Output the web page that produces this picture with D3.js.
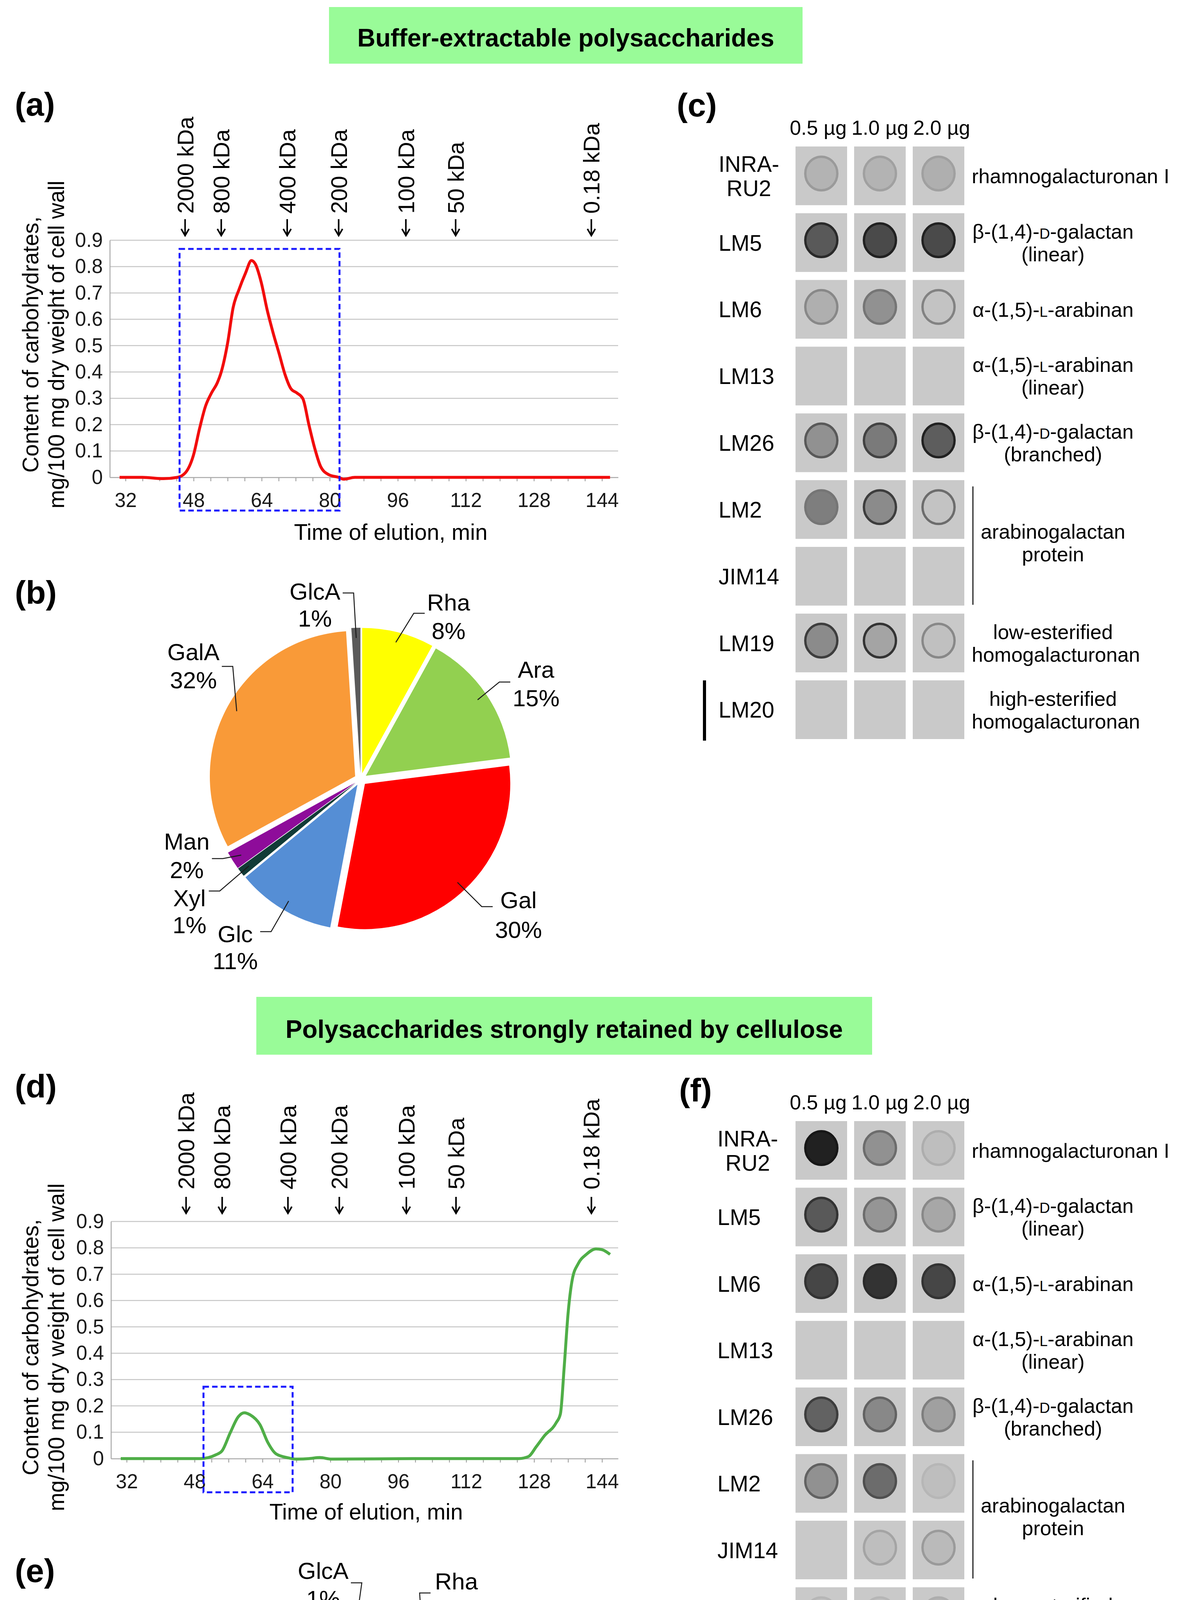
<!DOCTYPE html>
<html>
<head>
    <meta charset="utf-8">
    <title>Polysaccharide fractions - elution profiles, sugar composition and dot blots</title>
    <script src="https://d3js.org/d3.v7.min.js" charset="utf-8"></script>
    <style>
        html, body { margin: 0; padding: 0; background: #fff; }
    </style>
</head>
<body>
<div id="chart"></div>
<script>
// ---------- data ----------

// elution profile, buffer-extractable fraction (a)
const timeA = [30.6, 36, 40.9, 44.2, 46.1, 48.0, 49.4, 50.8, 52.2, 53.6, 54.5, 56.0, 57.3, 58.7, 60.2, 61.6,
    62.5, 63.9, 65.3, 66.7, 68.1, 69.5, 70.9, 72.3, 73.7, 75.1, 76.5, 77.9, 79.8, 82.1, 83.3, 85.9, 100, 120, 145.9];
const contentA = [0, 0, -0.005, 0, 0.018, 0.086, 0.185, 0.27, 0.32, 0.36, 0.40, 0.51, 0.645, 0.714, 0.775, 0.823,
    0.81, 0.74, 0.635, 0.548, 0.47, 0.39, 0.336, 0.32, 0.298, 0.2, 0.109, 0.04, 0.01, 0, -0.007, 0, 0, 0, 0];

// elution profile, fraction retained by cellulose (d)
const timeD = [30.6, 40, 49.4, 53.1, 54.5, 56.4, 58.3, 59.7, 61.1, 63.4, 65.3, 67.2, 70.0, 71.9, 75.0, 77.5, 80.3,
    100, 124.4, 126.7, 128.5, 130.4, 133.2, 134.2, 135.1, 136.0, 137.0, 138.4, 140.3, 142.6, 144.0, 145.9];
const contentD = [0, 0, 0, 0.015, 0.03, 0.098, 0.159, 0.174, 0.166, 0.129, 0.06, 0.018, 0.003, -0.002, 0, 0.004, -0.002,
    0, 0, 0.008, 0.045, 0.086, 0.136, 0.17, 0.35, 0.55, 0.68, 0.74, 0.775, 0.796, 0.793, 0.775];

// dashed selection boxes [t0, t1, yMin, yMax]
const boxA = [44.7, 82.3, -0.126, 0.867];
const boxD = [50.1, 71.1, -0.128, 0.273];

// molecular mass markers
const kdaLabels = ["2000 kDa", "800 kDa", "400 kDa", "200 kDa", "100 kDa", "50 kDa", "0.18 kDa"];
const kdaTimes = [46.0, 54.5, 70.0, 82.1, 97.9, 109.6, 141.5];

const xTickLabels = [32, 48, 64, 80, 96, 112, 128, 144];
const yTickLabels = [0, 0.1, 0.2, 0.3, 0.4, 0.5, 0.6, 0.7, 0.8, 0.9];

// monosaccharide composition, %
const sugars = ["Rha", "Ara", "Gal", "Glc", "Xyl", "Man", "GalA", "GlcA"];
const shareB = [8, 15, 30, 11, 1, 2, 32, 1];
const shareE = [14, 28, 24, 3, 1, 3, 26, 1];

// dot blots
const antibodies = ["INRA-RU2", "LM5", "LM6", "LM13", "LM26", "LM2", "JIM14", "LM19", "LM20"];
const amounts = ["0.5 µg", "1.0 µg", "2.0 µg"];
const epitopes = ["rhamnogalacturonan I", "β-(1,4)-D-galactan|(linear)", "α-(1,5)-L-arabinan",
    "α-(1,5)-L-arabinan|(linear)", "β-(1,4)-D-galactan|(branched)", "arabinogalactan|protein",
    "low-esterified|homogalacturonan", "high-esterified|homogalacturonan"];
const epitopeRows = [["INRA-RU2"], ["LM5"], ["LM6"], ["LM13"], ["LM26"], ["LM2", "JIM14"], ["LM19"], ["LM20"]];
const markedRows = ["LM20"];

// spot darkness (0 = nothing, 1 = black), body and rim, per antibody x amount
const spotC = [[0.12, 0.12, 0.14], [0.6, 0.68, 0.68], [0.14, 0.3, 0.03], [0, 0, 0], [0.3, 0.42, 0.58],
    [0.4, 0.33, 0.03], [0, 0, 0], [0.33, 0.2, 0.05], [0, 0, 0]];
const rimC = [[0.25, 0.22, 0.22], [0.85, 0.9, 0.9], [0.35, 0.45, 0.38], [0, 0, 0], [0.6, 0.72, 0.9],
    [0.45, 0.75, 0.5], [0, 0, 0], [0.75, 0.8, 0.35], [0, 0, 0]];
const spotF = [[0.9, 0.3, 0.06], [0.6, 0.28, 0.18], [0.7, 0.8, 0.7], [0, 0, 0], [0.55, 0.35, 0.22],
    [0.3, 0.5, 0.06], [0, 0.06, 0.08], [0.05, 0.05, 0.12], [0, 0, 0]];
const rimF = [[0.95, 0.5, 0.15], [0.8, 0.5, 0.35], [0.8, 0.85, 0.8], [0, 0, 0], [0.75, 0.55, 0.4],
    [0.55, 0.65, 0.1], [0, 0.2, 0.25], [0.1, 0.1, 0.15], [0, 0, 0]];

// ---------- drawing ----------
const FONT = '"Liberation Sans", Arial, Helvetica, sans-serif';
const width = 3020, height = 4981;

const svg = d3.select("#chart").append("svg")
    .attr("width", width).attr("height", height)
    .style("display", "block")
    .attr("font-family", FONT);

svg.append("rect").attr("width", width).attr("height", height).attr("fill", "#fff");

// section titles in green boxes
function titleBox(x0, x1, y0, y1, baseline, label) {
    svg.append("rect").attr("x", x0).attr("y", y0).attr("width", x1 - x0).attr("height", y1 - y0)
        .attr("fill", "#99fb98");
    svg.append("text").attr("x", (x0 + x1) / 2).attr("y", baseline)
        .attr("text-anchor", "middle").attr("font-weight", "bold").attr("font-size", 64)
        .text(label);
}
titleBox(842, 2054, 18, 163, 119, "Buffer-extractable polysaccharides");
titleBox(656, 2232, 2552, 2700, 2657, "Polysaccharides strongly retained by cellulose");

// panel letters
function panelLetter(x, y, s) {
    svg.append("text").attr("x", x).attr("y", y).attr("font-weight", "bold").attr("font-size", 84).text(s);
}
panelLetter(38, 296, "(a)");
panelLetter(38, 1546, "(b)");
panelLetter(1732, 298, "(c)");
panelLetter(38, 2810, "(d)");
panelLetter(38, 4050, "(e)");
panelLetter(1738, 2820, "(f)");

// elution chart
function drawElution(o, times, values, box, lineColor) {
    const g = svg.append("g");
    const x = d3.scaleLinear().domain([28.3, 147.8]).range([o.left, o.right]);
    const y = d3.scaleLinear().domain([0, 0.9]).range([o.bottom, o.top]);

    g.append("g").selectAll("line").data(yTickLabels.filter(d => d > 0)).join("line")
        .attr("x1", o.left).attr("x2", o.right)
        .attr("y1", d => y(d)).attr("y2", d => y(d))
        .attr("stroke", "#c6c6c6").attr("stroke-width", 2.5);

    const yAxis = g.append("g").attr("transform", `translate(${o.left},0)`)
        .call(d3.axisLeft(y).tickValues(yTickLabels).tickSize(0).tickPadding(18)
            .tickFormat(d => d === 0 ? "0" : d.toFixed(1)));
    const xAxis = g.append("g").attr("transform", `translate(0,${y(0)})`)
        .call(d3.axisBottom(x).tickValues(d3.range(32, 145, 4)).tickSize(10).tickSizeOuter(0).tickPadding(30)
            .tickFormat(d => xTickLabels.includes(d) ? d : ""));
    [yAxis, xAxis].forEach(a => {
        a.attr("font-family", FONT).attr("font-size", 51);
        a.select(".domain").attr("stroke", "#a8a8a8").attr("stroke-width", 2.5);
        a.selectAll(".tick line").attr("stroke", "#a8a8a8").attr("stroke-width", 2.5);
        a.selectAll(".tick text").attr("fill", "#1a1a1a");
    });

    // curve
    const pts = times.map((t, i) => [t, values[i]]);
    g.append("path").datum(pts)
        .attr("fill", "none").attr("stroke", lineColor).attr("stroke-width", 7.5)
        .attr("stroke-linejoin", "round")
        .attr("d", d3.line().x(d => x(d[0])).y(d => y(d[1])).curve(d3.curveMonotoneX));

    // dashed box
    g.append("rect")
        .attr("x", x(box[0])).attr("y", y(box[3]))
        .attr("width", x(box[1]) - x(box[0])).attr("height", y(box[2]) - y(box[3]))
        .attr("fill", "none").attr("stroke", "#1a1aff").attr("stroke-width", 5)
        .attr("stroke-dasharray", "14,8");

    // mass markers
    const mk = g.append("g").selectAll("g").data(kdaTimes).join("g")
        .attr("transform", d => `translate(${x(d)},0)`);
    mk.append("text")
        .attr("transform", `translate(0,${o.kdaText}) rotate(-90)`)
        .attr("dy", "0.36em").attr("font-size", 58)
        .text((d, i) => kdaLabels[i]);
    mk.append("line").attr("x1", 0).attr("x2", 0)
        .attr("y1", o.arrowTip - 42).attr("y2", o.arrowTip - 2)
        .attr("stroke", "#000").attr("stroke-width", 4);
    mk.append("path")
        .attr("d", `M-10,${o.arrowTip - 17}L0,${o.arrowTip}L10,${o.arrowTip - 17}`)
        .attr("fill", "none").attr("stroke", "#000").attr("stroke-width", 4);

    // axis titles
    g.append("text").attr("x", o.xTitleX).attr("y", o.xTitleY).attr("dy", "0.36em")
        .attr("text-anchor", "middle").attr("font-size", 57).text("Time of elution, min");
    [["Content of carbohydrates,", 77], ["mg/100 mg dry weight of cell wall", 143]].forEach(([s, xc]) => {
        g.append("text").attr("transform", `translate(${xc},${o.yTitleY}) rotate(-90)`)
            .attr("dy", "0.36em").attr("text-anchor", "middle").attr("font-size", 57).text(s);
    });
}

drawElution({left: 281, right: 1582, top: 615, bottom: 1222, kdaText: 547, arrowTip: 603,
    xTitleX: 1000, xTitleY: 1361, yTitleY: 882}, timeA, contentA, boxA, "#f20d0d");
drawElution({left: 284, right: 1582, top: 3127, bottom: 3734, kdaText: 3045, arrowTip: 3106,
    xTitleX: 937, xTitleY: 3869, yTitleY: 3449}, timeD, contentD, boxD, "#4fae47");

// pies
const sugarColor = d3.scaleOrdinal().domain(sugars)
    .range(["#ffff00", "#92d050", "#ff0000", "#558ed5", "#113b37", "#8e0c9a", "#f99a38", "#5a5a5a"]);

function drawPie(o, shares, labelOffsets) {
    const g = svg.append("g").attr("transform", `translate(${o.cx},${o.cy})`);
    const arcs = d3.pie().sort(null)(shares);
    const arc = d3.arc().innerRadius(0).outerRadius(o.r);
    const shift = a => {
        const m = (a.startAngle + a.endAngle) / 2;
        return [Math.sin(m) * o.explode, -Math.cos(m) * o.explode];
    };
    g.selectAll("path.slice").data(arcs).join("path").attr("class", "slice")
        .attr("transform", d => `translate(${shift(d)})`)
        .attr("d", arc)
        .attr("fill", (d, i) => sugarColor(sugars[i]));

    arcs.forEach((a, i) => {
        const [dx, dy] = labelOffsets[i];
        const lg = g.append("g").attr("transform", `translate(${dx},${dy})`);
        const gap = o.lineGap[i] || 72;
        const t1 = lg.append("text").attr("y", -gap / 2).attr("dy", "0.36em")
            .attr("text-anchor", "middle").attr("font-size", 60).text(sugars[i]);
        const t2 = lg.append("text").attr("y", gap / 2).attr("dy", "0.36em")
            .attr("text-anchor", "middle").attr("font-size", 60).text(shares[i] + "%");
        const w = Math.max(t1.node().getComputedTextLength(), t2.node().getComputedTextLength());
        // leader line
        const m = (a.startAngle + a.endAngle) / 2;
        const [sx, sy] = shift(a);
        const ex = sx + Math.sin(m) * o.r * 0.93, ey = sy - Math.cos(m) * o.r * 0.93;
        const side = dx > 0 ? -1 : 1;
        const x0 = dx + side * (w / 2 + 6), y0 = dy + o.leadY[i];
        const x1 = x0 + side * 28;
        g.append("path").attr("d", `M${x0},${y0}L${x1},${y0}L${ex},${ey}`)
            .attr("fill", "none").attr("stroke", "#1a1a1a").attr("stroke-width", 2.5);
    });
}

drawPie({cx: 923, cy: 1995, r: 372, explode: 16,
        lineGap: [73, 73, 76, 69, 69, 73, 72, 69],
        leadY: [-8, -4, -20, -40, -52, 8, 2, -30]},
    shareB,
    [[225, -417], [449, -245], [404, 346], [-321, 430], [-438, 338], [-445, 195], [-428, -291], [-117, -447]]);
drawPie({cx: 925, cy: 4505, r: 375, explode: 16,
        lineGap: [69, 69, 68, 83, 65, 72, 72, 72],
        leadY: [-4, -8, -34, -55, -16, 40, -3, -4]},
    shareE,
    [[243, -423], [488, -138], [-328, 400], [-488, 281], [-517, 138], [-509, -13], [-394, -316], [-98, -449]]);

// dot blots
const shade = d3.interpolateRgb("#c9c9c9", "#0e0e0e");

function richText(sel, str) {
    str.split(/(-[DL]-)/).forEach(part => {
        const m = part.match(/^-([DL])-$/);
        if (m) {
            sel.append("tspan").text("-");
            sel.append("tspan").attr("font-size", "0.72em").text(m[1]);
            sel.append("tspan").text("-");
        } else if (part) {
            sel.append("tspan").text(part);
        }
    });
}

function drawBlot(o, spots, rims) {
    const g = svg.append("g");
    const col = d3.scaleBand().domain(amounts).range([2036, 2468]).paddingInner(0.12);
    const row = d3.scaleBand().domain(antibodies).range([o.top, o.bottom]).paddingInner(0.12);

    // column headers
    g.selectAll("text.amt").data(amounts).join("text").attr("class", "amt")
        .attr("x", (d, i) => col(d) + col.bandwidth() / 2 + (i - 1) * 8)
        .attr("y", o.top - 49).attr("dy", "0.36em")
        .attr("text-anchor", "middle").attr("font-size", 52).text(d => d);

    // cells and spots
    antibodies.forEach((ab, r) => {
        amounts.forEach((am, c) => {
            const x0 = col(am), y0 = row(ab);
            g.append("rect").attr("x", x0).attr("y", y0)
                .attr("width", col.bandwidth()).attr("height", row.bandwidth())
                .attr("fill", "#c9c9c9");
            const s = spots[r][c], rim = rims[r][c];
            if (s > 0 || rim > 0) {
                g.append("ellipse")
                    .attr("cx", x0 + col.bandwidth() / 2)
                    .attr("cy", y0 + row.bandwidth() / 2 - 6)
                    .attr("rx", 41).attr("ry", 43)
                    .attr("fill", shade(s))
                    .attr("stroke", shade(rim)).attr("stroke-width", 6);
            }
        });
        // antibody name
        const lines = ab.split(/(?<=-)/);
        const yc = row(ab) + row.bandwidth() / 2;
        const first = g.append("text").attr("x", o.labelX)
            .attr("y", yc - (lines.length - 1) * 31).attr("dy", "0.36em")
            .attr("font-size", 57).text(lines[0]);
        if (lines.length > 1) {
            const cx = o.labelX + first.node().getComputedTextLength() / 2;
            lines.slice(1).forEach((l, k) => {
                g.append("text").attr("x", cx).attr("y", yc - 31 + (k + 1) * 62).attr("dy", "0.36em")
                    .attr("text-anchor", "middle").attr("font-size", 57).text(l);
            });
        }
        if (markedRows.includes(ab)) {
            g.append("line").attr("x1", o.markX).attr("x2", o.markX)
                .attr("y1", row(ab)).attr("y2", row(ab) + row.bandwidth() + 4)
                .attr("stroke", "#000").attr("stroke-width", 8);
        }
    });

    // epitope descriptions
    epitopes.forEach((ep, i) => {
        const rows = epitopeRows[i];
        const yc = d3.mean(rows, r => row(r) + row.bandwidth() / 2);
        const lines = ep.split("|");
        lines.forEach((l, k) => {
            const t = g.append("text").attr("x", 2695)
                .attr("y", yc + (k - (lines.length - 1) / 2) * 58).attr("dy", "0.36em")
                .attr("text-anchor", "middle").attr("font-size", 52);
            richText(t, l);
            const w = t.node().getComputedTextLength();
            if (2695 - w / 2 < 2487) t.attr("x", 2487 + w / 2);
        });
        if (rows.length > 1) {
            g.append("line").attr("x1", 2490).attr("x2", 2490)
                .attr("y1", row(rows[0]) + 16).attr("y2", row(rows[rows.length - 1]) + row.bandwidth() - 2)
                .attr("stroke", "#222").attr("stroke-width", 3);
        }
    });
}

drawBlot({top: 375, bottom: 1892, labelX: 1839, markX: 1803}, spotC, rimC);
drawBlot({top: 2870, bottom: 4384, labelX: 1836, markX: 1806}, spotF, rimF);
</script>
</body>
</html>
